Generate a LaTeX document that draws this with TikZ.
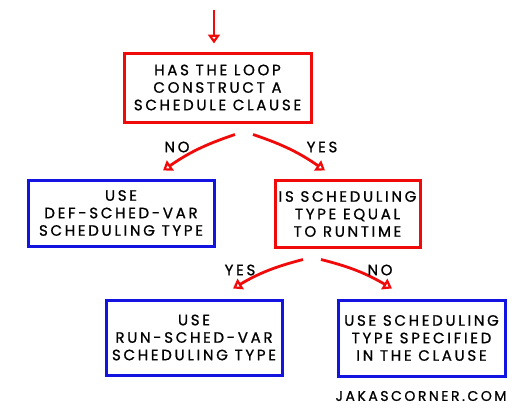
\documentclass[tikz,border=0pt]{standalone}
\usepackage{fontspec}
\setmainfont[LetterSpace=18, UprightFeatures={FakeBold=0.9}]{Poppins}
\usepackage{tikz}
\usetikzlibrary{arrows.meta,positioning,calc,decorations.pathmorphing}
\definecolor{flowred}{RGB}{240,10,10}
\definecolor{flowblue}{RGB}{20,20,225}

\begin{document}
\begin{tikzpicture}[
    x=1pt, y=-1pt,
    question/.style={rectangle, draw=flowred, line width=3pt, fill=white,
                     align=center, font=\fontsize{15}{17.5}\selectfont},
    action/.style={rectangle, draw=flowblue, line width=3pt, fill=white,
                   align=center, font=\fontsize{15}{17.5}\selectfont},
    flow/.style={draw=flowred, line width=2.8pt,
                 -{Triangle[open, length=9pt, width=12pt]}},
    answer/.style={font=\fontsize{15}{17}\selectfont}
]
\useasboundingbox (0,0) rectangle (512,415);

% Questions
\node[question, minimum width=187pt, minimum height=69pt] (loop) at (217.5, 87.5)
    {HAS THE LOOP\\CONSTRUCT A\\SCHEDULE CLAUSE};
\node[question, minimum width=145pt, minimum height=67pt] (runtime) at (347.5, 214)
    {IS SCHEDULING\\TYPE EQUAL\\TO RUNTIME};

% Actions
\node[action, minimum width=186pt, minimum height=66pt] (defvar) at (121, 213)
    {USE\\DEF-SCHED-VAR\\SCHEDULING TYPE};
\node[action, minimum width=176pt, minimum height=75pt] (runvar) at (194, 337.5)
    {USE\\RUN-SCHED-VAR\\SCHEDULING TYPE};
\node[action, minimum width=167pt, minimum height=76pt] (clause) at (421.5, 338)
    {USE SCHEDULING\\TYPE SPECIFIED\\IN THE CLAUSE};

% Entry
\coordinate (entry) at (214, 10);
\draw[flow, shorten >=8pt] (entry) -- (entry |- loop.north);

% Branches
\draw[flow] ($(loop.south)+(17.5,11)$) to[bend right=8] ($(defvar.north)+(42,-8)$);
\draw[flow] ($(loop.south)+(35.5,11)$) to[bend left=8] ($(runtime.north)+(-22.5,-8.5)$);
\draw[flow] ($(runtime.south)+(-44.5,10.5)$) to[bend right=8] ($(runvar.north)+(39,-10)$);
\draw[flow] ($(runtime.south)+(-26.5,10.5)$) to[bend left=8] ($(clause.north)+(-29.5,-10)$);

\node[answer] (no1) at (177, 147) {NO};
\node[answer] (yes1) at (322, 147) {YES};
\node[answer] (yes2) at (240, 270) {YES};
\node[answer] (no2) at (380, 270) {NO};

% Footer
\node[font=\fontsize{14}{17}\selectfont] (site) at (421, 396) {JAKASCORNER.COM};

\end{tikzpicture}
\end{document}
